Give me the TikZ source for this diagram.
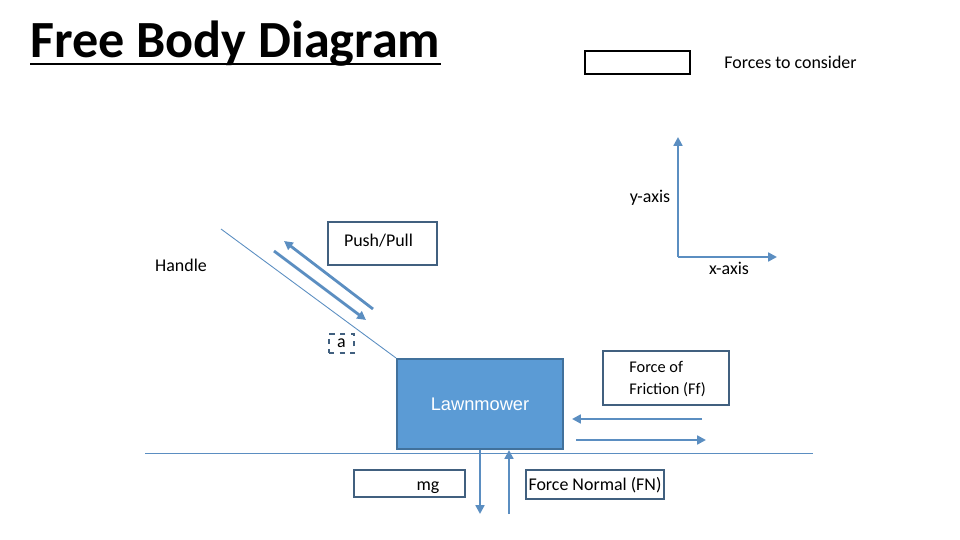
\documentclass[tikz,border=0pt]{standalone}
\usepackage{fontspec}
\setmainfont{Carlito}
\newfontfamily\arialfont{Liberation Sans}
\usetikzlibrary{arrows.meta,positioning,calc}
\definecolor{forceblue}{HTML}{5B8EC1}
\definecolor{boxline}{HTML}{41607F}
\definecolor{mowerfill}{HTML}{5B9BD5}
\definecolor{mowerline}{HTML}{41719C}
\tikzset{
  forcebox/.style={draw=boxline,line width=1.2pt,inner sep=0pt,font=\fontsize{10.2}{12}\selectfont,
    text height=0.9em,text depth=0.2em},
  forcearrow/.style={draw=forceblue,line width=1.6pt,-{Triangle[length=5pt,width=5pt]}},
  thinline/.style={draw=forceblue,line width=0.5pt},
  lbl/.style={font=\fontsize{10.2}{12}\selectfont,inner sep=0pt}
}
\begin{document}
\begin{tikzpicture}[x=0.02cm,y=-0.02cm]
\useasboundingbox (0,0) rectangle (960,540);
% title and legend
\node[anchor=base west,inner sep=0pt,font=\bfseries\fontsize{29.7}{34}\selectfont] (title) at (30,58) {Free Body Diagram};
\draw[line width=1.7pt] ($(title.base west)+(0,6)$) -- ($(title.base east)+(0,6)$);
\node[draw,line width=1.2pt,minimum width=2.1cm,minimum height=0.46cm,inner sep=0pt] (legend) at (637.5,62.5) {};
\node[lbl,anchor=west] (legendtext) at (724,62) {Forces to consider};
% axes
\coordinate (origin) at (678,257);
\coordinate (ytip) at (678,137);
\coordinate (xtip) at (777,257);
\draw[forcearrow] (origin) -- (ytip);
\draw[forcearrow] (origin) -- (xtip);
\node[lbl] (ylabel) at (650,198) {y-axis};
\node[lbl] (xlabel) at (729,268) {x-axis};
% lawnmower and ground
\node[draw=mowerline,fill=mowerfill,line width=1.2pt,minimum width=3.32cm,minimum height=1.8cm,
  font=\arialfont\fontsize{10.4}{12}\selectfont,text=white,text depth=0pt] (mower) at (480,404) {Lawnmower};
\coordinate (groundL) at (145,453);
\coordinate (groundR) at (813,453);
\draw[thinline] (groundL) -- (groundR);
% handle
\coordinate (handletop) at (221,229);
\draw[thinline] (handletop) -- (mower.north west);
\node[lbl] (handle) at (181,265) {Handle};
\node[draw=boxline,dashed,line width=0.8pt,minimum width=0.5cm,minimum height=0.38cm,inner sep=0pt,lbl] (angle) at (341.5,343.5) {a};
% push / pull
\node[forcebox,minimum width=2.18cm,minimum height=0.86cm] (pushbox) at (382.5,243.5) {};
\node[lbl,anchor=base] (push) at (378.5,247) {Push/Pull};
\coordinate (pullA) at (373,309);
\coordinate (pullB) at (284,241);
\coordinate (pushA) at (274,251);
\coordinate (pushB) at (366,320);
\draw[forcearrow] (pullA) -- (pullB);
\draw[forcearrow] (pushA) -- (pushB);
% friction
\node[forcebox,minimum width=2.52cm,minimum height=1.08cm] (frictionbox) at (666,378) {};
\node[lbl,font=\fontsize{9.3}{12.5}\selectfont,align=left,anchor=west] (friction) at (629,379.5) {Force of\\Friction (Ff)};
\coordinate (frA) at (702,419);
\coordinate (frB) at (572,419);
\coordinate (frC) at (576,440);
\coordinate (frD) at (706,440);
\draw[forcearrow] (frA) -- (frB);
\draw[forcearrow] (frC) -- (frD);
% weight and normal force
\node[forcebox,minimum width=2.22cm,minimum height=0.54cm] (mgbox) at (409.5,483.5) {};
\node[lbl,anchor=base] (mg) at (428,490) {mg};
\node[forcebox,minimum width=2.76cm,minimum height=0.58cm] (normal) at (595,484.5) {Force Normal (FN)};
\coordinate (mgtip) at (480,514);
\coordinate (fnbase) at (509,514);
\draw[forcearrow] (mower.south -| mgtip) -- (mgtip);
\draw[forcearrow] (fnbase) -- (mower.south -| fnbase);
\end{tikzpicture}
\end{document}
